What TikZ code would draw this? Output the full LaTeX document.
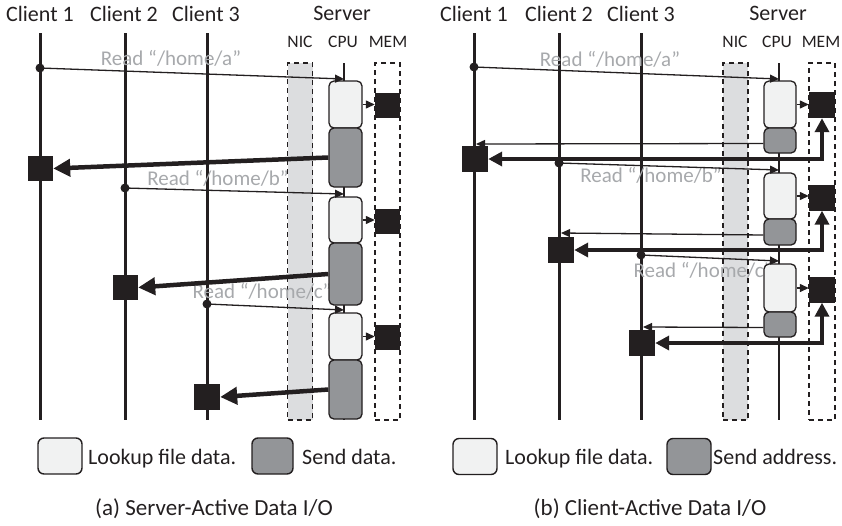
\documentclass[tikz,border=0pt]{standalone}
\usepackage{fontspec}
\setmainfont{Carlito}
\usetikzlibrary{arrows.meta}
\definecolor{ink}{HTML}{231F20}
\definecolor{lightfill}{HTML}{F1F2F2}
\definecolor{darkfill}{HTML}{939598}
\definecolor{nicfill}{HTML}{DCDDDF}
\definecolor{labelgray}{HTML}{A7A9AC}
\begin{document}
\begin{tikzpicture}[x=1pt,y=-1pt,
  every node/.style={font=\fontsize{21}{25}\selectfont, text=ink},
  lifeline/.style={draw=ink, line width=3pt},
  cpuline/.style={draw=ink, line width=2.5pt},
  colbox/.style={draw=ink, dash pattern=on 5pt off 4pt, line width=1.4pt, minimum width=25pt, minimum height=357pt, inner sep=0pt},
  cpulight/.style={draw=ink, fill=lightfill, line width=1.3pt, rounded corners=5pt, minimum width=33pt, inner sep=0pt},
  cpudark/.style={draw=ink, fill=darkfill, line width=1.3pt, rounded corners=5pt, minimum width=33pt, inner sep=0pt},
  blk/.style={fill=ink, draw=none, minimum size=25pt, inner sep=0pt},
  dotn/.style={circle, fill=ink, minimum size=9pt, inner sep=0pt},
  reqarr/.style={draw=ink, line width=1.3pt, -{Triangle[length=9pt,width=8pt]}},
  fatarr/.style={draw=ink, line width=4.5pt, -{Triangle[length=17pt,width=17pt]}},
  fatpath/.style={draw=ink, line width=4pt, line join=miter, {Triangle[length=14pt,width=14pt]}-{Triangle[length=14pt,width=14pt]}},
  rlabel/.style={text=labelgray, anchor=base, inner sep=0pt, font=\fontsize{21}{25}\selectfont},
  ttl/.style={anchor=base, inner sep=0pt, font=\fontsize{22}{26}\selectfont},
  subttl/.style={anchor=base, inner sep=0pt, font=\fontsize{17.5}{21}\selectfont},
  captxt/.style={anchor=base, inner sep=0pt, font=\fontsize{23}{27}\selectfont},
  legtext/.style={anchor=base west, inner sep=0pt, font=\fontsize{22}{26}\selectfont},
  legbox/.style={draw=ink, line width=1.4pt, rounded corners=6pt, minimum width=44pt, minimum height=36pt, inner sep=0pt}
]
\useasboundingbox (0,0) rectangle (842,525);

% ================= Panel (a) =================
\node[colbox, fill=nicfill] (aNIC) at (300,241.5) {};
\node[colbox, fill=white] (aMEM) at (387.5,241.5) {};

\coordinate (a1t) at (40,33);  \coordinate (a1b) at (40,420);
\coordinate (a2t) at (125,33); \coordinate (a2b) at (125,420);
\coordinate (a3t) at (207,33); \coordinate (a3b) at (207,420);
\coordinate (aCt) at (344,63); \coordinate (aCb) at (344,420);
\draw[lifeline] (a1t) -- (a1b);
\draw[lifeline] (a2t) -- (a2b);
\draw[lifeline] (a3t) -- (a3b);
\draw[cpuline] (aCt) -- (aCb);

\node[ttl] (tA1) at (40,21) {Client 1};
\node[ttl] (tA2) at (124,21) {Client 2};
\node[ttl] (tA3) at (206,21) {Client 3};
\node[ttl] (tAS) at (342,20) {Server};
\node[subttl] (tAN) at (300,47) {NIC};
\node[subttl] (tAC) at (343,47) {CPU};
\node[subttl] (tAM) at (388,47) {MEM};

\node[rlabel] (laA) at (171,65) {Read “/home/a”};
\node[rlabel] (laB) at (218,185) {Read “/home/b”};
\node[rlabel] (laC) at (262,298) {Read “/home/c”};

\node[cpulight, minimum height=47pt] (aL1) at (345.5,104.5) {};
\node[cpudark,  minimum height=59pt] (aD1) at (345.5,157.5) {};
\node[cpulight, minimum height=46pt] (aL2) at (345.5,220) {};
\node[cpudark,  minimum height=62pt] (aD2) at (345.5,274) {};
\node[cpulight, minimum height=47pt] (aL3) at (345.5,336.5) {};
\node[cpudark,  minimum height=59pt] (aD3) at (345.5,389.5) {};

\node[blk] (aM1) at (387.5,105.5) {};
\node[blk] (aM2) at (387.5,221.5) {};
\node[blk] (aM3) at (387.5,337.5) {};

\node[blk] (aC1) at (40.5,168.5) {};
\node[blk] (aC2) at (125.5,287.5) {};
\node[blk, minimum size=26pt] (aC3) at (207,397) {};

\node[dotn] (aR1) at (40,68) {};
\node[dotn] (aR2) at (125,188) {};
\node[dotn] (aR3) at (207,304) {};
\coordinate (aT1) at (344,79);
\coordinate (aT2) at (344,194);
\coordinate (aT3) at (344,310);
\draw[reqarr] (aR1.center) -- (aT1);
\draw[reqarr] (aR2.center) -- (aT2);
\draw[reqarr] (aR3.center) -- (aT3);

\draw[reqarr] (aL1.east) -- (aL1.east -| aM1.west);
\draw[reqarr] (aL2.east) -- (aL2.east -| aM2.west);
\draw[reqarr] (aL3.east) -- (aL3.east -| aM3.west);

\draw[fatarr] (aD1.west) -- (aC1.east);
\draw[fatarr] (aD2.west) -- (aC2.east);
\draw[fatarr] (aD3.west) -- (aC3.east);

% legend (a)
\node[legbox, fill=lightfill] (aLegL) at (60,456) {};
\node[legtext] (aLegLt) at (88,464) {Lookup file data.};
\node[legbox, fill=darkfill, minimum width=41pt] (aLegD) at (272.5,456) {};
\node[legtext] (aLegDt) at (302,464) {Send data.};
\node[captxt] (capA) at (214,515) {(a) Server-Active Data I/O};

% ================= Panel (b) =================
\node[colbox, fill=nicfill] (bNIC) at (735.5,241.5) {};
\node[colbox, fill=white, minimum width=26pt] (bMEM) at (822,241.5) {};

\coordinate (b1t) at (474,33);  \coordinate (b1b) at (474,420);
\coordinate (b2t) at (559,33);  \coordinate (b2b) at (559,420);
\coordinate (b3t) at (641,33);  \coordinate (b3b) at (641,420);
\coordinate (bCt) at (779,63);  \coordinate (bCb) at (779,420);
\draw[lifeline] (b1t) -- (b1b);
\draw[lifeline] (b2t) -- (b2b);
\draw[lifeline] (b3t) -- (b3b);
\draw[cpuline] (bCt) -- (bCb);

\node[ttl] (tB1) at (474,21) {Client 1};
\node[ttl] (tB2) at (559,21) {Client 2};
\node[ttl] (tB3) at (641,21) {Client 3};
\node[ttl] (tBS) at (778,20) {Server};
\node[subttl] (tBN) at (735,47) {NIC};
\node[subttl] (tBC) at (777,47) {CPU};
\node[subttl] (tBM) at (821,47) {MEM};

\node[rlabel] (lbA) at (610,66) {Read “/home/a”};
\node[rlabel] (lbB) at (651,182) {Read “/home/b”};
\node[rlabel] (lbC) at (703,277) {Read “/home/c”};

\node[cpulight, minimum width=32pt, minimum height=47pt] (bL1) at (780,104.5) {};
\node[cpudark,  minimum width=32pt, minimum height=25pt] (bD1) at (780,140.5) {};
\node[cpulight, minimum width=32pt, minimum height=46pt] (bL2) at (780,196) {};
\node[cpudark,  minimum width=32pt, minimum height=26pt] (bD2) at (780,232) {};
\node[cpulight, minimum width=32pt, minimum height=48pt] (bL3) at (780,288) {};
\node[cpudark,  minimum width=32pt, minimum height=25pt] (bD3) at (780,324.5) {};

\node[blk, minimum size=26pt] (bM1) at (822,105) {};
\node[blk, minimum size=26pt] (bM2) at (822,197.5) {};
\node[blk, minimum size=26pt] (bM3) at (822,289.5) {};

\node[blk, minimum size=26pt] (bC1) at (475,159) {};
\node[blk, minimum size=26pt] (bC2) at (561,250) {};
\node[blk, minimum size=26pt] (bC3) at (642,343) {};

\node[dotn] (bR1) at (474,67) {};
\node[dotn] (bR2) at (559,163) {};
\node[dotn] (bR3) at (641,255) {};
\coordinate (bT1) at (779,79);
\coordinate (bT2) at (779,170);
\coordinate (bT3) at (779,261);
\draw[reqarr] (bR1.center) -- (bT1);
\draw[reqarr] (bR2.center) -- (bT2);
\draw[reqarr] (bR3.center) -- (bT3);

\draw[reqarr] (bL1.east) -- (bL1.east -| bM1.west);
\draw[reqarr] (bL2.east) -- (bL2.east -| bM2.west);
\draw[reqarr] (bL3.east) -- (bL3.east -| bM3.west);

\coordinate (bA1) at (476,144);
\coordinate (bA2) at (561,233);
\coordinate (bA3) at (643,327);
\draw[reqarr] ([yshift=-3pt]bD1.west) -- (bA1);
\draw[reqarr] ([yshift=-3pt]bD2.west) -- (bA2);
\draw[reqarr] ([yshift=-3pt]bD3.west) -- (bA3);

\draw[fatpath] (bM1.south) |- (bC1.east);
\draw[fatpath] (bM2.south) |- (bC2.east);
\draw[fatpath] (bM3.south) |- (bC3.east);

% legend (b)
\node[legbox, fill=lightfill] (bLegL) at (475,456.5) {};
\node[legtext] (bLegLt) at (505,464) {Lookup file data.};
\node[legbox, fill=darkfill] (bLegD) at (689,456.5) {};
\node[legtext] (bLegDt) at (713,464) {Send address.};
\node[captxt] (capB) at (650,515) {(b) Client-Active Data I/O};
\end{tikzpicture}
\end{document}
